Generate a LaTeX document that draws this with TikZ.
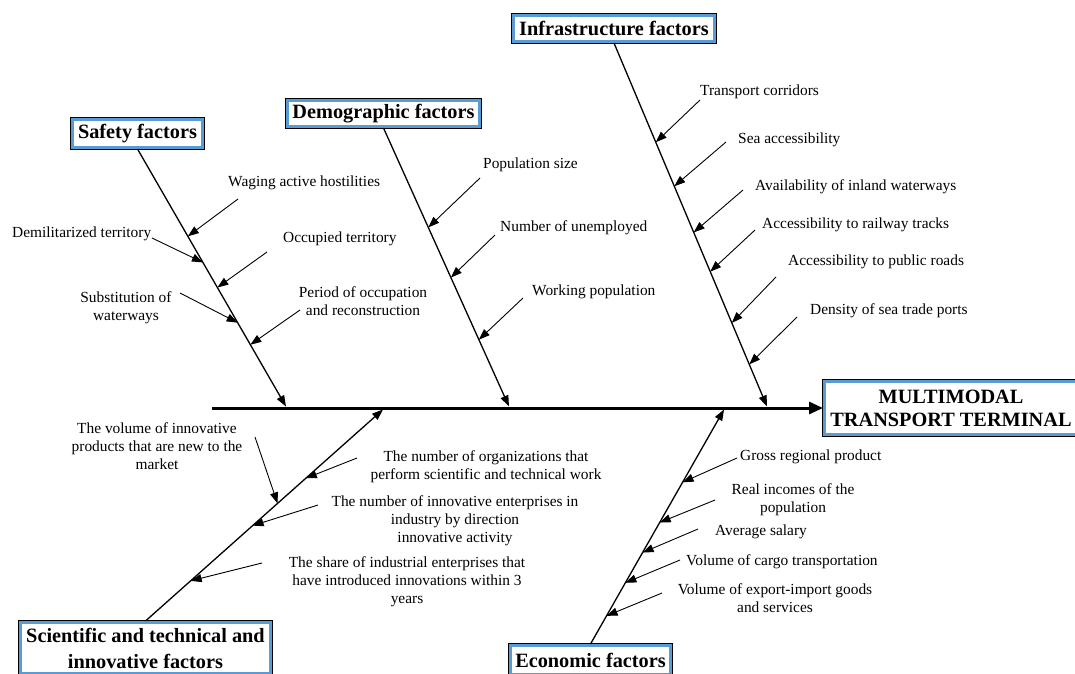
\documentclass[tikz,border=0pt]{standalone}
\usepackage{fontspec}
\setmainfont{Liberation Serif}
\usetikzlibrary{arrows.meta,calc}
\definecolor{boxblue}{RGB}{91,155,213}
\begin{document}
\begin{tikzpicture}[x=1pt,y=-1pt,
 lab/.style={font=\fontsize{15.4}{18}\selectfont, inner sep=0pt, align=center},
 head/.style={font=\fontsize{20.3}{24}\selectfont\bfseries, inner sep=0pt, fill=white, draw=boxblue, line width=3pt, preaction={draw=black, line width=5pt}, align=center},
 bone/.style={line width=1.3pt, -{Triangle[length=11pt,width=8pt]}},
 sub/.style={line width=0.9pt, -{Triangle[length=11pt,width=8pt]}},
]
\useasboundingbox (0,0) rectangle (1075,673);
\clip (0,0) rectangle (1075,673);
\fill[white] (0,0) rectangle (1075,673);

% heads
\node[head, minimum width=201pt, minimum height=26pt] (infra) at (614,28.5) {Infrastructure factors};
\node[head, minimum width=130pt, minimum height=28pt] (safety) at (137.5,133.5) {Safety factors};
\node[head, minimum width=192pt, minimum height=26pt] (demo) at (383.5,113.5) {Demographic factors};
\node[head, minimum width=253pt, minimum height=53pt, font=\fontsize{20.3}{23}\selectfont\bfseries] (main) at (951,408) {MULTIMODAL\\TRANSPORT TERMINAL};
\node[head, minimum width=250pt, minimum height=51pt, font=\fontsize{20.3}{26}\selectfont\bfseries] (sci) at (145.5,648) {Scientific and technical and\\innovative factors};
\node[head, minimum width=160pt, minimum height=29pt] (econ) at (590.5,660) {Economic factors};

% spine
\coordinate (sp0) at (212,408);
\draw[line width=3pt, -{Triangle[length=14pt,width=12pt]}] (sp0) -- (main.west);

% bone tips
\coordinate (stip) at (286,406.5);
\coordinate (dtip) at (509,406.5);
\coordinate (itip) at (767,406.5);
\coordinate (ctip) at (383,409.5);
\coordinate (etip) at (724,409.5);
\draw[bone] (safety.south) -- (stip);
\draw[bone] (demo.south) -- (dtip);
\draw[bone] (infra.south) -- (itip);
\draw[bone] (sci.north) -- (ctip);
\draw[bone] (econ.north) -- (etip);

% safety labels
\node[lab, anchor=west] (s1) at (228,183) {Waging active hostilities};
\node[lab, anchor=west] (s2) at (12,234) {Demilitarized territory};
\node[lab, anchor=west] (s3) at (283,239) {Occupied territory};
\node[lab] (s4) at (126,308) {Substitution of\\waterways};
\node[lab] (s5) at (363,301) {Period of occupation\\and reconstruction};
\coordinate (s1t) at (238,199);
\coordinate (s2t) at (152,238);
\coordinate (s3t) at (267,252);
\coordinate (s4t) at (180,293);
\coordinate (s5t) at (300,310);
\draw[sub] (s1t) -- ($(safety.south)!0.339!(stip)$);
\draw[sub] (s2t) -- ($(safety.south)!0.4405!(stip)$);
\draw[sub] (s3t) -- ($(safety.south)!0.538!(stip)$);
\draw[sub] (s4t) -- ($(safety.south)!0.6745!(stip)$);
\draw[sub] (s5t) -- ($(safety.south)!0.760!(stip)$);

% demographic labels
\node[lab, anchor=west] (d1) at (483,165) {Population size};
\node[lab, anchor=west] (d2) at (500,228) {Number of unemployed};
\node[lab, anchor=west] (d3) at (532,292) {Working population};
\coordinate (d1t) at (480,178);
\coordinate (d2t) at (495,235);
\coordinate (d3t) at (523,298);
\draw[sub] (d1t) -- ($(demo.south)!0.357!(dtip)$);
\draw[sub] (d2t) -- ($(demo.south)!0.537!(dtip)$);
\draw[sub] (d3t) -- ($(demo.south)!0.760!(dtip)$);

% infrastructure labels
\node[lab, anchor=west] (i1) at (700,92) {Transport corridors};
\node[lab, anchor=west] (i2) at (738,140) {Sea accessibility};
\node[lab, anchor=west] (i3) at (755,187) {Availability of inland waterways};
\node[lab, anchor=west] (i4) at (762,225) {Accessibility to railway tracks};
\node[lab, anchor=west] (i5) at (788,262) {Accessibility to public roads};
\node[lab, anchor=west] (i6) at (810,311) {Density of sea trade ports};
\coordinate (i1t) at (700,100);
\coordinate (i2t) at (726,142);
\coordinate (i3t) at (743,190);
\coordinate (i4t) at (755,230);
\coordinate (i5t) at (776,277);
\coordinate (i6t) at (797,317);
\draw[sub] (i1t) -- ($(infra.south)!0.273!(itip)$);
\draw[sub] (i2t) -- ($(infra.south)!0.394!(itip)$);
\draw[sub] (i3t) -- ($(infra.south)!0.521!(itip)$);
\draw[sub] (i4t) -- ($(infra.south)!0.629!(itip)$);
\draw[sub] (i5t) -- ($(infra.south)!0.770!(itip)$);
\draw[sub] (i6t) -- ($(infra.south)!0.884!(itip)$);

% scientific labels
\node[lab] (c1) at (157,446) {The volume of innovative\\products that are new to the\\market};
\node[lab] (c2) at (486,467) {The number of organizations that\\perform scientific and technical work};
\node[lab] (c3) at (455,521) {The number of innovative enterprises in\\industry by direction\\innovative activity};
\node[lab] (c4) at (407,582) {The share of industrial enterprises that\\have introduced innovations within 3\\years};
\coordinate (c1t) at (255,437);
\coordinate (c2t) at (357,458);
\coordinate (c3t) at (318,505);
\coordinate (c4t) at (262,563);
\draw[sub] (c1t) -- ($(sci.north)!0.556!(ctip)$);
\draw[sub] (c2t) -- ($(sci.north)!0.675!(ctip)$);
\draw[sub] (c3t) -- ($(sci.north)!0.451!(ctip)$);
\draw[sub] (c4t) -- ($(sci.north)!0.190!(ctip)$);

% economic labels
\node[lab, anchor=west] (e1) at (740,457) {Gross regional product};
\node[lab] (e2) at (793,500) {Real incomes of the\\population};
\node[lab, anchor=west] (e3) at (715,532) {Average salary};
\node[lab, anchor=west] (e4) at (686,562) {Volume of cargo transportation};
\node[lab] (e5) at (775,598) {Volume of export-import goods\\and services};
\coordinate (e1t) at (737,458);
\coordinate (e2t) at (715,500);
\coordinate (e3t) at (698,529);
\coordinate (e4t) at (680,560);
\coordinate (e5t) at (662,593);
\draw[sub] (e1t) -- ($(econ.north)!0.6895!(etip)$);
\draw[sub] (e2t) -- ($(econ.north)!0.518!(etip)$);
\draw[sub] (e3t) -- ($(econ.north)!0.390!(etip)$);
\draw[sub] (e4t) -- ($(econ.north)!0.261!(etip)$);
\draw[sub] (e5t) -- ($(econ.north)!0.120!(etip)$);
\end{tikzpicture}
\end{document}
